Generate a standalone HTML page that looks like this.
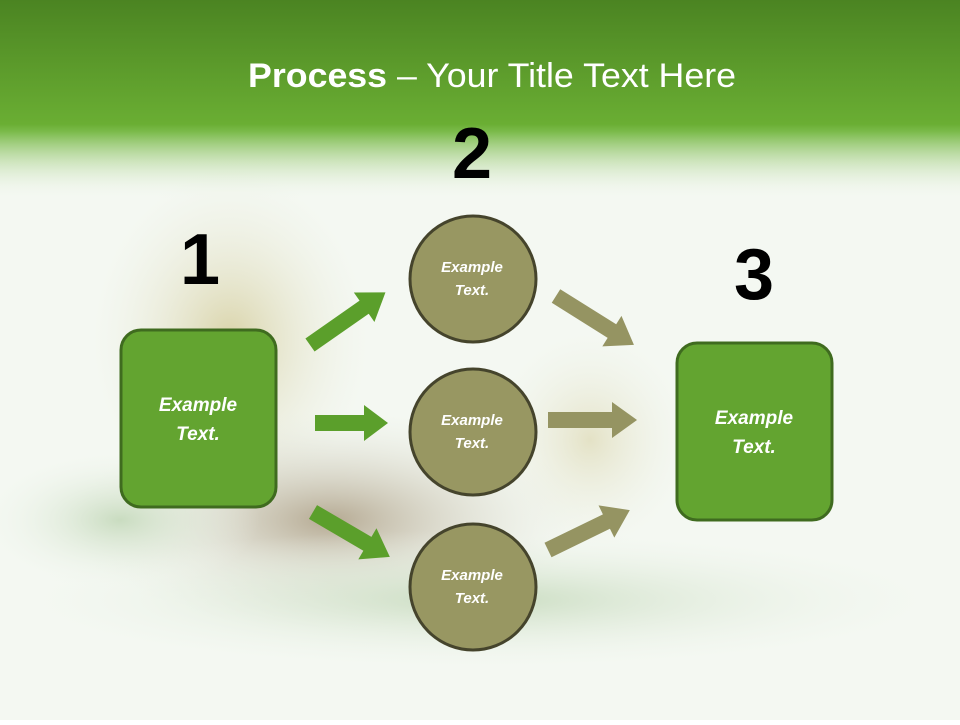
<!DOCTYPE html>
<html><head><meta charset="utf-8"><style>
html,body{margin:0;padding:0;}
body{width:960px;height:720px;overflow:hidden;font-family:"Liberation Sans",sans-serif;}
</style></head><body>
<svg width="960" height="720" viewBox="0 0 960 720" xmlns="http://www.w3.org/2000/svg">
<defs>
<linearGradient id="hd" x1="0" y1="0" x2="0" y2="1">
<stop offset="0" stop-color="#4b8422"/>
<stop offset="0.62" stop-color="#6aae33"/>
<stop offset="0.66" stop-color="#7cbb4c"/>
<stop offset="1" stop-color="#f4f8f2" stop-opacity="0"/>
</linearGradient>
<radialGradient id="pot" cx="0.5" cy="0.5" r="0.5">
<stop offset="0" stop-color="#d9d3a8"/><stop offset="1" stop-color="#eef0e4" stop-opacity="0"/>
</radialGradient>
<radialGradient id="dates" cx="0.5" cy="0.5" r="0.5">
<stop offset="0" stop-color="#b5a992"/><stop offset="1" stop-color="#e9ede2" stop-opacity="0"/>
</radialGradient>
<radialGradient id="leaf" cx="0.5" cy="0.5" r="0.5">
<stop offset="0" stop-color="#c9dcc0"/><stop offset="1" stop-color="#f1f6ee" stop-opacity="0"/>
</radialGradient>
</defs>
<rect width="960" height="720" fill="#f4f8f2"/>
<ellipse cx="230" cy="340" rx="140" ry="170" fill="url(#pot)"/>
<ellipse cx="330" cy="520" rx="260" ry="110" fill="url(#dates)"/>
<ellipse cx="590" cy="440" rx="100" ry="110" fill="url(#pot)" opacity="0.6"/>
<ellipse cx="480" cy="600" rx="470" ry="70" fill="url(#leaf)"/>
<ellipse cx="120" cy="520" rx="140" ry="70" fill="url(#leaf)"/>
<rect width="960" height="200" fill="url(#hd)"/>
<text x="492" y="87" text-anchor="middle" fill="#fff" font-family="Liberation Sans, sans-serif" font-size="34" textLength="488" lengthAdjust="spacingAndGlyphs"><tspan font-weight="bold">Process</tspan> – Your Title Text Here</text>

<g font-family="Liberation Sans, sans-serif" font-weight="bold" font-size="72" fill="#000" text-anchor="middle">
<text x="200" y="284">1</text>
<text x="472" y="178">2</text>
<text x="754" y="299">3</text>
</g>

<g fill="#5b9f2b">
<polygon points="0,-8 66,-8 66,-18 92,0 66,18 66,8 0,8" transform="translate(310,345) rotate(-34.9)"/>
<polygon points="0,-8 49,-8 49,-18 73,0 49,18 49,8 0,8" transform="translate(315,423)"/>
<polygon points="0,-8 63,-8 63,-18 89,0 63,18 63,8 0,8" transform="translate(313,512) rotate(30.3)"/>
</g>
<g fill="#959462">
<polygon points="0,-8 66,-8 66,-18 92,0 66,18 66,8 0,8" transform="translate(556,296) rotate(32.1)"/>
<polygon points="0,-8 64,-8 64,-18 89,0 64,18 64,8 0,8" transform="translate(548,420)"/>
<polygon points="0,-8 65,-8 65,-18 91,0 65,18 65,8 0,8" transform="translate(548,550) rotate(-26)"/>
</g>

<g fill="#63a430" stroke="#3f6b1f" stroke-width="3">
<rect x="121" y="330" width="155" height="177" rx="20"/>
<rect x="677" y="343" width="155" height="177" rx="20"/>
</g>
<g fill="#989762" stroke="#45442c" stroke-width="3">
<circle cx="473" cy="279" r="63"/>
<circle cx="473" cy="432" r="63"/>
<circle cx="473" cy="587" r="63"/>
</g>
<g fill="#fff" font-family="Liberation Sans, sans-serif" font-weight="bold" font-style="italic" text-anchor="middle">
<g font-size="19">
<text x="198" y="411">Example</text><text x="198" y="440">Text.</text>
<text x="754" y="424">Example</text><text x="754" y="453">Text.</text>
</g>
<g font-size="15">
<text x="472" y="272">Example</text><text x="472" y="295">Text.</text>
<text x="472" y="425">Example</text><text x="472" y="448">Text.</text>
<text x="472" y="580">Example</text><text x="472" y="603">Text.</text>
</g>
</g>
</svg>
</body></html>
